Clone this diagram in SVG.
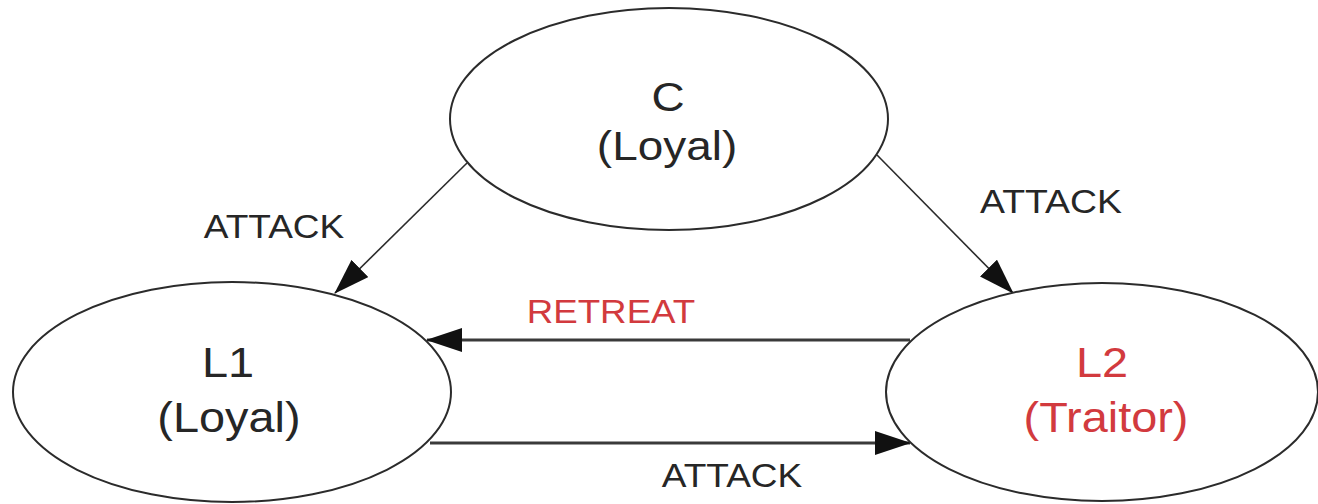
<svg xmlns="http://www.w3.org/2000/svg" width="1318" height="504" viewBox="0 0 1318 504">
  <style>
    .node { fill: #ffffff; stroke: #2b2b2b; stroke-width: 2; }
    .lbl { font-family: "Liberation Sans", Arial, sans-serif; text-anchor: middle; fill: #262626; }
    .big { font-size: 43px; }
    .small { font-size: 34px; }
    .red { fill: #d23a3e; }
    .thin { stroke: #2b2b2b; stroke-width: 1.6; fill: none; }
    .thick { stroke: #3a3a3a; stroke-width: 3; fill: none; }
  </style>
  <defs>
    <marker id="arrow" markerUnits="userSpaceOnUse" markerWidth="36" markerHeight="24" refX="35" refY="12" orient="auto">
      <path d="M0,0 L36,12 L0,24 Z" fill="#111111"/>
    </marker>
  </defs>

  <rect width="1318" height="504" fill="#ffffff"/>

  <!-- connectors -->
  <g id="connectors">
    <line class="thin" x1="467" y1="163" x2="335" y2="293" marker-end="url(#arrow)"/>
    <line class="thin" x1="877" y1="155" x2="1013" y2="293" marker-end="url(#arrow)"/>
    <line class="thick" x1="910" y1="340" x2="427" y2="340" marker-end="url(#arrow)"/>
    <line class="thick" x1="430" y1="443" x2="910" y2="443" marker-end="url(#arrow)"/>
    <g transform="translate(274,238) scale(1.09,1)"><text class="lbl small" x="0" y="0">ATTACK</text></g>
    <g transform="translate(1051,213) scale(1.1,1)"><text class="lbl small" x="0" y="0">ATTACK</text></g>
    <g transform="translate(611,323) scale(1.08,1)"><text class="lbl small red" x="0" y="0">RETREAT</text></g>
    <g transform="translate(732,487) scale(1.09,1)"><text class="lbl small" x="0" y="0">ATTACK</text></g>
  </g>

  <!-- commander -->
  <g id="node-c">
    <ellipse class="node" cx="669" cy="119" rx="219" ry="111"/>
    <g transform="translate(668,111) scale(1.12,1)"><text class="lbl" font-size="41" x="0" y="0">C</text></g>
    <g transform="translate(667,160) scale(1.12,1)"><text class="lbl" font-size="41" x="0" y="0">(Loyal)</text></g>
  </g>

  <!-- lieutenant 1 -->
  <g id="node-l1">
    <ellipse class="node" cx="232" cy="392" rx="219" ry="110"/>
    <g transform="translate(228,377) scale(1.09,1)"><text class="lbl big" x="0" y="0">L1</text></g>
    <g transform="translate(229,432) scale(1.09,1)"><text class="lbl big" x="0" y="0">(Loyal)</text></g>
  </g>

  <!-- lieutenant 2 -->
  <g id="node-l2">
    <ellipse class="node" cx="1102" cy="392" rx="216" ry="109"/>
    <g transform="translate(1102,377) scale(1.09,1)"><text class="lbl big red" x="0" y="0">L2</text></g>
    <g transform="translate(1106,432) scale(1.09,1)"><text class="lbl big red" x="0" y="0">(Traitor)</text></g>
  </g>
</svg>
